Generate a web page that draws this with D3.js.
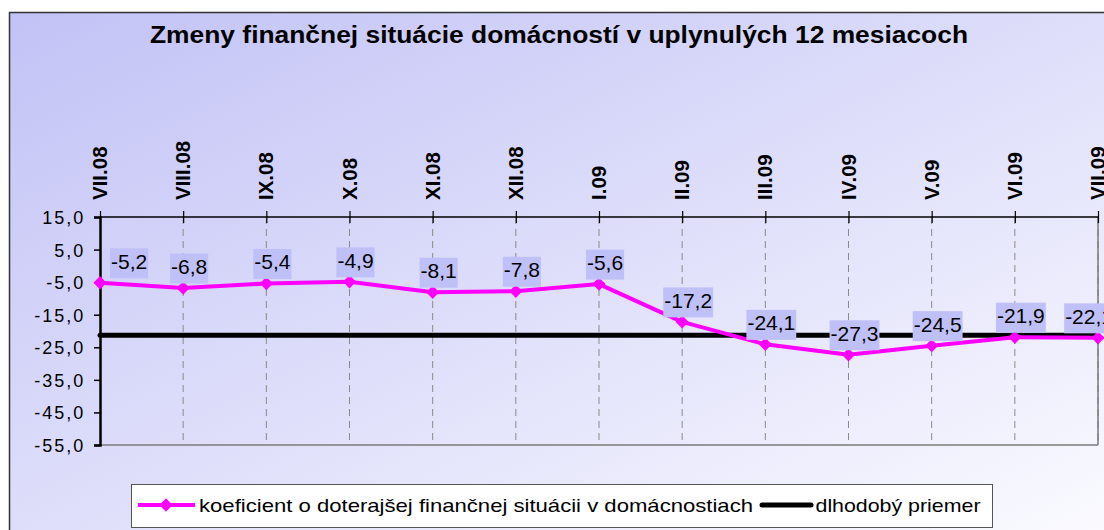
<!DOCTYPE html>
<html>
<head>
<meta charset="utf-8">
<script src="https://cdn.jsdelivr.net/npm/d3@7"></script>
<style>
  html, body { margin: 0; padding: 0; background: #ffffff; }
  svg { display: block; }
  text { font-family: "Liberation Sans", Arial, sans-serif; }
</style>
</head>
<body>
<svg id="chart" width="1104" height="530"></svg>
<script>
// ---- data ----
const title = "Zmeny finančnej situácie domácností v uplynulých 12 mesiacoch";
const categories = ["VII.08", "VIII.08", "IX.08", "X.08", "XI.08", "XII.08", "I.09", "II.09", "III.09", "IV.09", "V.09", "VI.09", "VII.09"];
const coefficient = [-5.2, -6.8, -5.4, -4.9, -8.1, -7.8, -5.6, -17.2, -24.1, -27.3, -24.5, -21.9, -22.1];
const longTermAverage = [-21.3, -21.3, -21.3, -21.3, -21.3, -21.3, -21.3, -21.3, -21.3, -21.3, -21.3, -21.3, -21.3];
const yTicks = [15, 5, -5, -15, -25, -35, -45, -55];
const seriesNames = ["koeficient o doterajšej finančnej situácii v domácnostiach", "dlhodobý priemer"];

// ---- drawing ----
const svg = d3.select("#chart");
const W = 1104, H = 530;
const plot = { left: 100, right: 1098, top: 217, bottom: 445 };
const fmt = v => v.toFixed(1).replace(".", ",");

const defs = svg.append("defs");
const grad = defs.append("linearGradient").attr("id", "bg")
  .attr("x1", 0).attr("y1", 0).attr("x2", 1).attr("y2", 1);
grad.append("stop").attr("offset", 0).attr("stop-color", "#c2c2f6");
grad.append("stop").attr("offset", 1).attr("stop-color", "#fbfbff");

// chart area frame
svg.append("rect").attr("x", 9.5).attr("y", 12.5).attr("width", 1110).attr("height", 530)
  .attr("fill", "url(#bg)").attr("stroke", "#333").attr("stroke-width", 1.5);

const x = d3.scalePoint().domain(categories).range([plot.left, plot.right]);
const y = d3.scaleLinear().domain([-55, 15]).range([plot.bottom, plot.top]);

// title
svg.append("text").attr("x", 559).attr("y", 43).attr("text-anchor", "middle")
  .attr("font-size", 23).attr("font-weight", "bold")
  .attr("textLength", 818).attr("lengthAdjust", "spacingAndGlyphs")
  .text(title);

// vertical dashed gridlines
svg.append("g").selectAll("line").data(categories.slice(1)).join("line")
  .attr("x1", d => x(d)).attr("x2", d => x(d))
  .attr("y1", plot.top).attr("y2", plot.bottom)
  .attr("stroke", "#8a8a8a").attr("stroke-width", 1).attr("stroke-dasharray", "7,5");

// plot border bottom & right (grey)
svg.append("line").attr("x1", plot.left).attr("x2", plot.right).attr("y1", plot.bottom).attr("y2", plot.bottom)
  .attr("stroke", "#7a7a7a").attr("stroke-width", 1.5);
svg.append("line").attr("x1", plot.right).attr("x2", plot.right).attr("y1", plot.top).attr("y2", plot.bottom)
  .attr("stroke", "#7a7a7a").attr("stroke-width", 1.5);

// y axis
const yAxis = svg.append("g").attr("transform", `translate(${plot.left},0)`)
  .call(d3.axisLeft(y).tickValues(yTicks).tickFormat(fmt).tickSize(6).tickPadding(12));
yAxis.select(".domain").attr("stroke", "#000").attr("stroke-width", 2.5);
yAxis.selectAll(".tick line").attr("stroke", "#000").attr("stroke-width", 1.5);
yAxis.selectAll(".tick text").attr("font-size", 18).attr("fill", "#000")
  .attr("font-family", "'Liberation Sans', Arial, sans-serif")
  .attr("letter-spacing", "2px").attr("dy", "0.36em").attr("x", -14.7);

// x axis on top
const xAxis = svg.append("g").attr("transform", `translate(0,${plot.top})`)
  .call(d3.axisTop(x).tickSize(6).tickSizeInner(6).tickFormat(""));
xAxis.select(".domain").remove();
xAxis.selectAll(".tick line").attr("y1", 6).attr("y2", -6).attr("stroke", "#000").attr("stroke-width", 1.2);
svg.append("line").attr("x1", plot.left).attr("x2", plot.right).attr("y1", plot.top).attr("y2", plot.top)
  .attr("stroke", "#000").attr("stroke-width", 1.5);

// category labels (rotated)
svg.append("g").selectAll("text").data(categories).join("text")
  .attr("transform", d => `translate(${x(d) + 7},200) rotate(-90)`)
  .attr("text-anchor", "start").attr("font-size", 20.5).attr("font-weight", "bold")
  .text(d => d);

// long-term average line
const line = d3.line().x((d, i) => x(categories[i])).y(d => y(d));
svg.append("path").datum(longTermAverage).attr("d", line)
  .attr("fill", "none").attr("stroke", "#000").attr("stroke-width", 5).attr("stroke-linecap", "round");

// coefficient line
svg.append("path").datum(coefficient).attr("d", line)
  .attr("fill", "none").attr("stroke", "#ff00ff").attr("stroke-width", 4).attr("stroke-linejoin", "round");

const diamond = "M0,-6.7L6.5,0L0,6.7L-6.5,0Z";
svg.append("g").selectAll("path").data(coefficient).join("path")
  .attr("transform", (d, i) => `translate(${x(categories[i])},${y(d)})`)
  .attr("d", diamond).attr("fill", "#ff00ff");

// data labels
const lg = svg.append("g");
coefficient.forEach((v, i) => {
  const px = x(categories[i]), py = y(v);
  const g = lg.append("g");
  const t = g.append("text").attr("font-size", 21).attr("text-anchor", "middle").text(fmt(v));
  const tw = t.node().getComputedTextLength();
  const bw = tw + 2, bh = 30;
  let cx = px + 6;
  cx = Math.max(cx, plot.left + 10 + bw / 2);
  cx = Math.min(cx, plot.right + 16 - bw / 2);
  const base = py - 14;
  g.insert("rect", "text").attr("x", cx - bw / 2).attr("y", base - 20.5).attr("width", bw).attr("height", bh)
    .attr("fill", "#c0c0f8");
  t.attr("x", cx).attr("y", base);
});

// legend
const leg = svg.append("g");
leg.append("rect").attr("x", 131.5).attr("y", 484.5).attr("width", 861).attr("height", 43)
  .attr("fill", "#fff").attr("stroke", "#555").attr("stroke-width", 1);
leg.append("line").attr("x1", 138).attr("x2", 195).attr("y1", 505).attr("y2", 505)
  .attr("stroke", "#ff00ff").attr("stroke-width", 4);
leg.append("path").attr("transform", "translate(166,505)").attr("d", diamond).attr("fill", "#ff00ff");
leg.append("text").attr("x", 199).attr("y", 512).attr("font-size", 19)
  .attr("textLength", 554).attr("lengthAdjust", "spacingAndGlyphs").text(seriesNames[0]);
leg.append("line").attr("x1", 762).attr("x2", 811).attr("y1", 505).attr("y2", 505)
  .attr("stroke", "#000").attr("stroke-width", 5).attr("stroke-linecap", "round");
leg.append("text").attr("x", 815.5).attr("y", 512).attr("font-size", 19)
  .attr("textLength", 165).attr("lengthAdjust", "spacingAndGlyphs").text(seriesNames[1]);
</script>
</body>
</html>
